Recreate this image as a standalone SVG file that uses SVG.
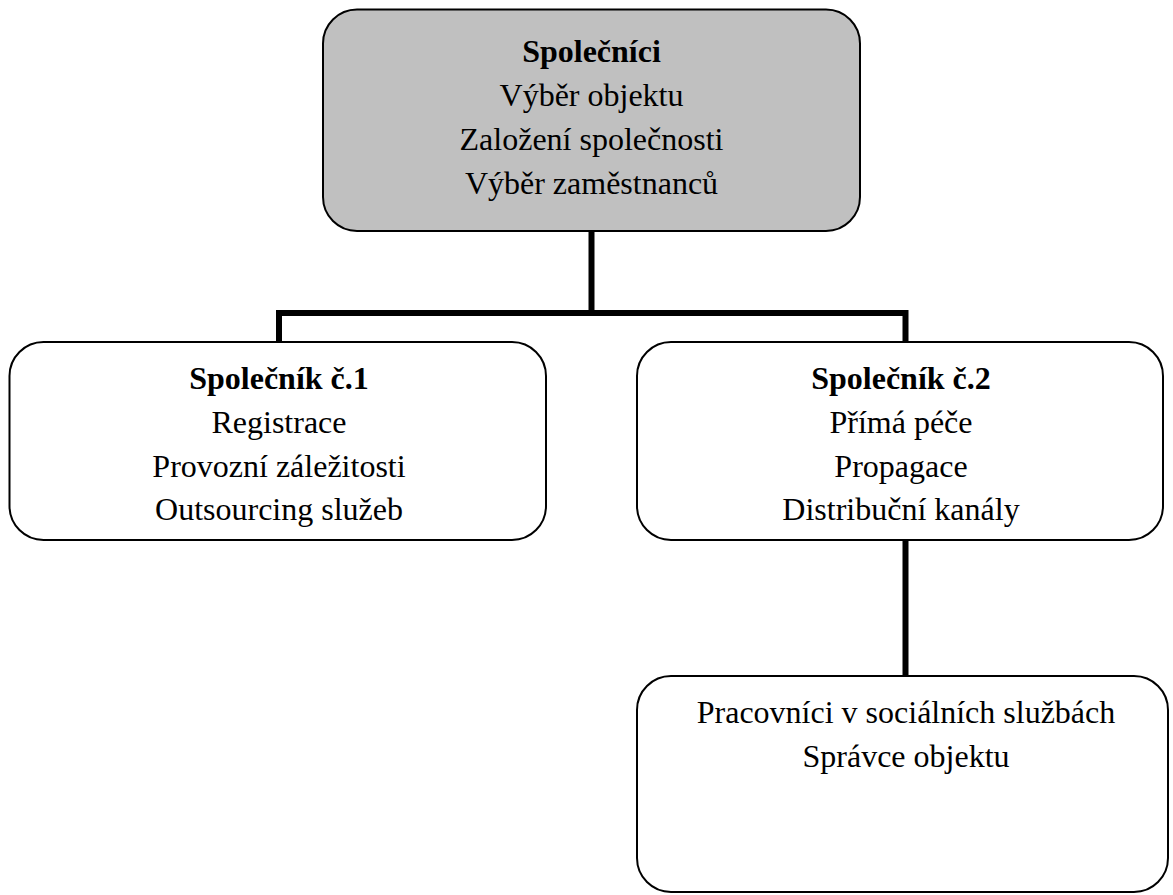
<svg xmlns="http://www.w3.org/2000/svg" width="1173" height="895" viewBox="0 0 1173 895">
<style>
.box{fill:#fff;stroke:#000;stroke-width:2}
.top{fill:#c0c0c0}
.t{font-family:"Liberation Serif","Times New Roman",serif;font-size:32px;text-anchor:middle;fill:#000}
.b{font-weight:bold}
.c{fill:none;stroke:#000;stroke-width:6}
</style>
<rect width="1173" height="895" fill="#fff"/>
<g id="connectors">
<line class="c" x1="591.5" y1="231" x2="591.5" y2="313"/>
<polyline class="c" points="279,342 279,313 905.5,313 905.5,342"/>
<line class="c" x1="905.5" y1="540" x2="905.5" y2="676"/>
</g>
<g id="spolecnici">
<rect class="box top" x="323" y="9.5" width="537" height="221.5" rx="34"/>
<text class="t b" x="591.5" y="62">Společníci</text>
<text class="t" x="591.5" y="106">Výběr objektu</text>
<text class="t" x="591.5" y="150">Založení společnosti</text>
<text class="t" x="591.5" y="194">Výběr zaměstnanců</text>
</g>
<g id="spolecnik1">
<rect class="box" x="9.5" y="342" width="536.5" height="198" rx="34"/>
<text class="t b" x="279" y="389">Společník č.1</text>
<text class="t" x="279" y="433">Registrace</text>
<text class="t" x="279" y="477">Provozní záležitosti</text>
<text class="t" x="279" y="520">Outsourcing služeb</text>
</g>
<g id="spolecnik2">
<rect class="box" x="637" y="342" width="526" height="198" rx="34"/>
<text class="t b" x="901" y="389">Společník č.2</text>
<text class="t" x="901" y="433">Přímá péče</text>
<text class="t" x="901" y="477">Propagace</text>
<text class="t" x="901" y="520">Distribuční kanály</text>
</g>
<g id="pracovnici">
<rect class="box" x="637" y="676" width="531" height="216" rx="34"/>
<text class="t" x="906" y="723">Pracovníci v sociálních službách</text>
<text class="t" x="906" y="767">Správce objektu</text>
</g>
</svg>
